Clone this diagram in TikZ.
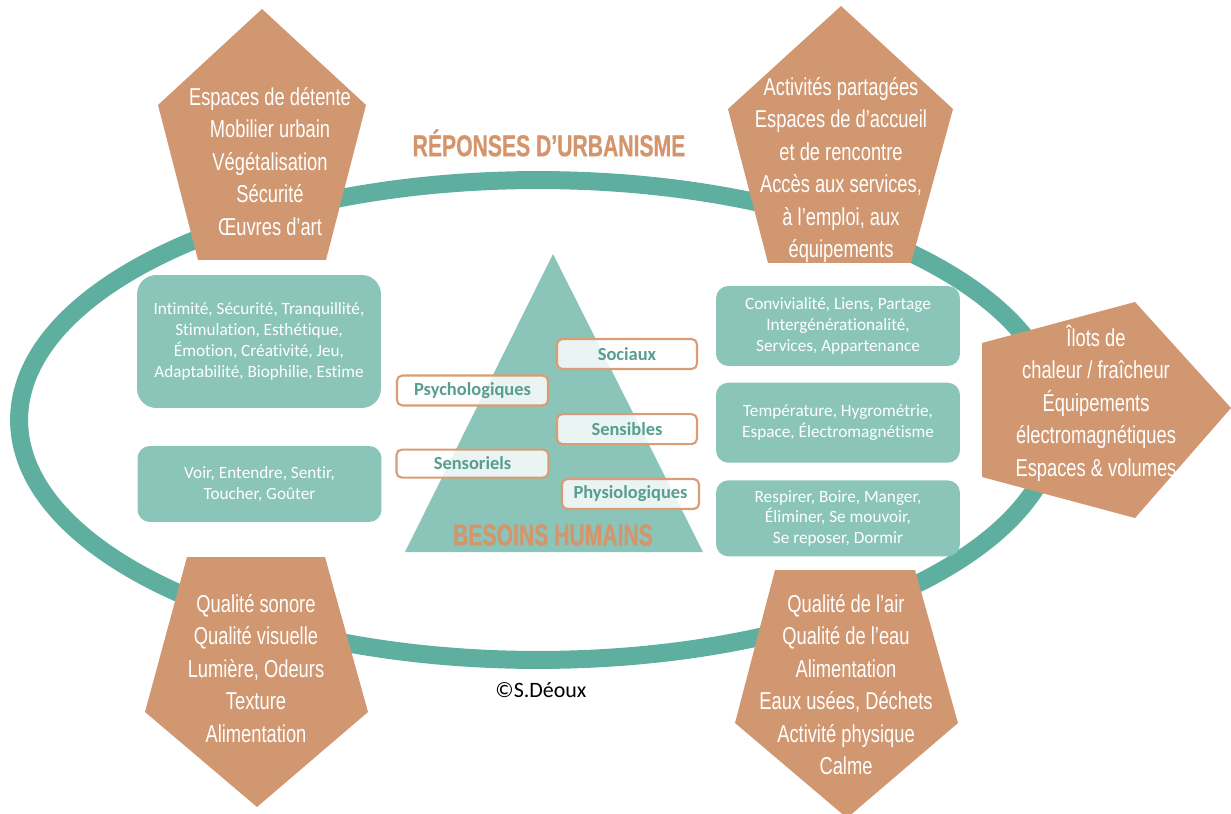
\documentclass[tikz,border=0pt]{standalone}
\usepackage{fontspec}
\setmainfont[Ligatures=NoCommon]{Carlito}
\newfontfamily\condfont[FakeStretch=0.75]{Liberation Sans}
\newfontfamily\titlefont[FakeStretch=0.7,FakeBold=0.6]{Liberation Sans}
\usepackage{tikz}
\usetikzlibrary{positioning}
\definecolor{ringteal}{RGB}{94,175,160}
\definecolor{boxteal}{RGB}{139,197,185}
\definecolor{labelteal}{RGB}{88,158,143}
\definecolor{pentafill}{RGB}{209,151,113}
\definecolor{titleorange}{RGB}{212,149,108}
\definecolor{labelorange}{RGB}{217,156,116}

\begin{document}
\begin{tikzpicture}[x=0.02cm,y=-0.02cm,
  ring/.style={draw=ringteal,line width=0.36cm},
  pentagon/.style={fill=pentafill},
  pentatext/.style={text=white,align=center,font=\condfont\fontsize{13.9}{18.5}\selectfont},
  greenbox/.style={fill=boxteal,rounded corners=7pt,text=white,align=center,inner sep=0pt,
    font=\fontsize{9.8}{11.8}\selectfont,minimum width=4.88cm},
  needlabel/.style={draw=labelorange,line width=1.2pt,fill=white,fill opacity=0.82,text opacity=1,
    rounded corners=3pt,text=labelteal,font=\bfseries\fontsize{10.5}{12}\selectfont,
    minimum width=2.8cm,minimum height=0.6cm,inner sep=0pt},
  bigtitle/.style={text=titleorange,font=\titlefont\bfseries\fontsize{17.2}{18}\selectfont}]
\useasboundingbox (0,0) rectangle (1231,814);

\draw[ring] (538,420) ellipse [x radius=10.38cm,y radius=4.8cm];

\fill[boxteal] (553,254) -- (703,552) -- (405,552) -- cycle;
\node[bigtitle] (besoins) at (553,535) {BESOINS HUMAINS};

\node[needlabel] (sociaux) at (627,354) {Sociaux};
\node[needlabel,below=0.86cm of sociaux] (sensibles) {Sensibles};
\node[needlabel,minimum width=2.74cm] (physio) at (630.5,494) {Physiologiques};
\node[needlabel,minimum width=3.02cm] (psycho) at (472.5,390.5) {Psychologiques};
\node[needlabel,minimum width=3.04cm,minimum height=0.56cm,below=0.84cm of psycho] (sensoriels) {Sensoriels};

\node[greenbox,rounded corners=11pt,minimum height=2.66cm] (intimite) at (259,341.5)
  {Intimité, Sécurité, Tranquillité,\\ Stimulation, Esthétique,\\ Émotion, Créativité, Jeu,\\ Adaptabilité, Biophilie, Estime};
\node[greenbox,minimum height=1.52cm] (voir) at (259.5,484)
  {Voir, Entendre, Sentir,\\ Toucher, Goûter};
\node[greenbox,minimum height=1.6cm] (convivial) at (838,326)
  {Convivialité, Liens, Partage\\ Intergénérationalité,\\ Services, Appartenance};
\node[greenbox,minimum height=1.6cm,below=0.32cm of convivial] (temperature)
  {Température, Hygrométrie,\\ Espace, Électromagnétisme};
\node[greenbox,minimum height=1.52cm,below=0.34cm of temperature] (respirer)
  {Respirer, Boire, Manger,\\ Éliminer, Se mouvoir,\\ Se reposer, Dormir};

\fill[pentagon] (262,9) -- (366,105) -- (326,260) -- (198,260) -- (158,105) -- cycle;
\fill[pentagon] (841,6) -- (953,109) -- (911,263) -- (768,263) -- (728,109) -- cycle;
\fill[pentagon] (1231,408) -- (1135,518) -- (982,477) -- (982,343) -- (1135,302) -- cycle;
\fill[pentagon] (257,807) -- (145,712) -- (187,557) -- (325,557) -- (368,712) -- cycle;
\fill[pentagon] (847,818) -- (735,723) -- (775,570) -- (915,570) -- (958,723) -- cycle;

\node[pentatext] (detente) at (270,161.5)
  {Espaces de détente\\ Mobilier urbain\\ Végétalisation\\ Sécurité\\ Œuvres d’art};
\node[pentatext] (activites) at (841,170)
  {Activités partagées\\ Espaces de d’accueil\\ et de rencontre\\ Accès aux services,\\ à l’emploi, aux\\ équipements};
\node[pentatext] (ilots) at (1096,403)
  {Îlots de\\ chaleur / fraîcheur\\ Équipements\\ électromagnétiques\\ Espaces \& volumes};
\node[pentatext] (sonore) at (256,668.5)
  {Qualité sonore\\ Qualité visuelle\\ Lumière, Odeurs\\ Texture\\ Alimentation};
\node[pentatext] (air) at (846,684.5)
  {Qualité de l’air\\ Qualité de l’eau\\ Alimentation\\ Eaux usées, Déchets\\ Activité physique\\ Calme};

\node[bigtitle] (reponses) at (549,143) {RÉPONSES D’URBANISME};
\node[font=\fontsize{12.5}{14}\selectfont] (copyright) at (541,690) {©S.Déoux};
\end{tikzpicture}
\end{document}
